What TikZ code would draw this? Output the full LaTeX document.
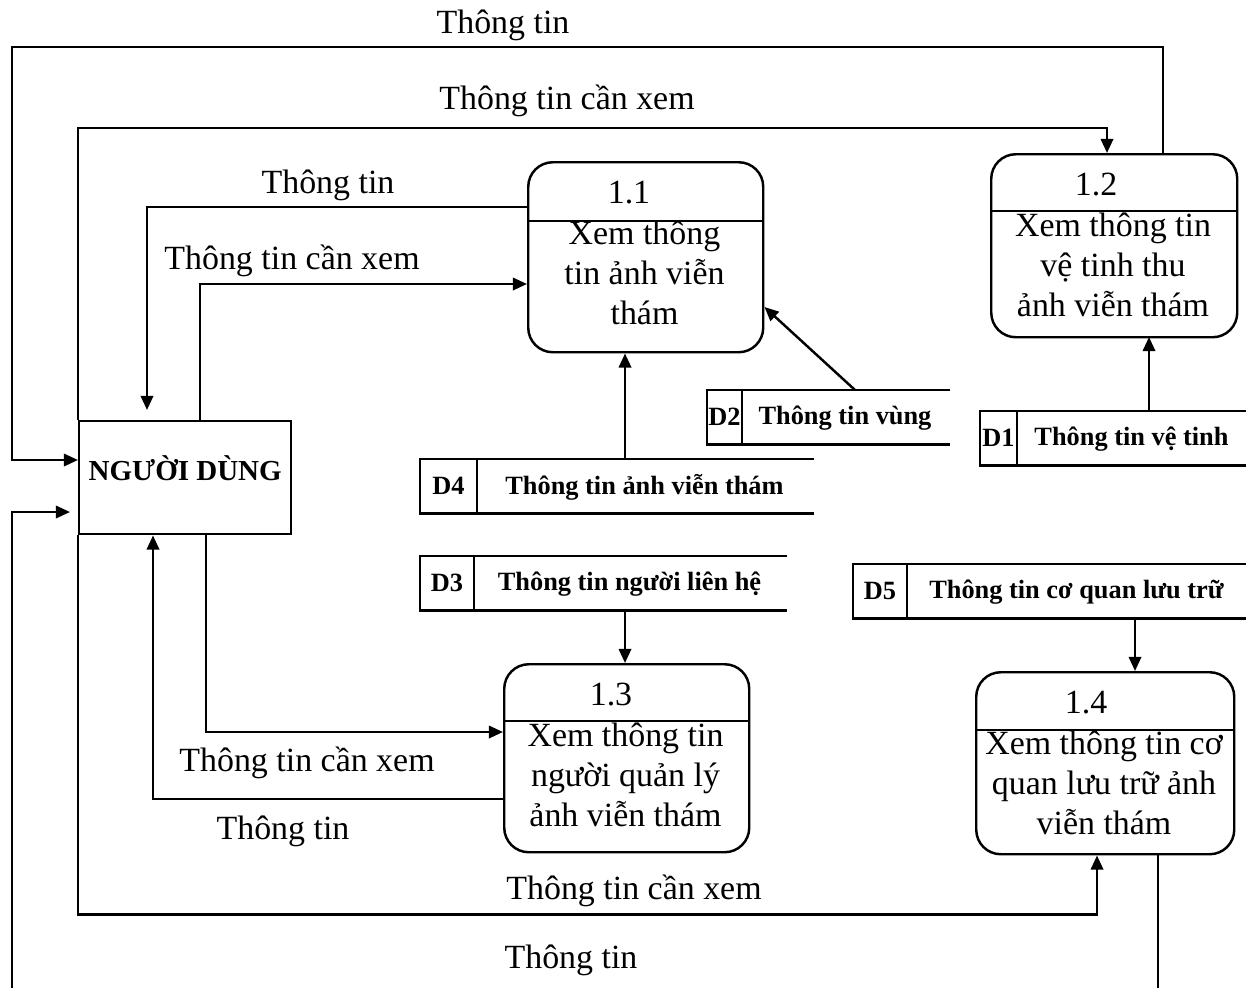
\documentclass[tikz,border=0pt]{standalone}
\usepackage{fontspec}
\setmainfont{Liberation Serif}
\usepackage{tikz}
\usetikzlibrary{arrows.meta,positioning,calc}

\begin{document}
\begin{tikzpicture}[
    x=0.02cm, y=-0.02cm,
    line width=1.4pt,
    flow/.style={-{Triangle[length=8pt,width=7pt]}},
    proc/.style={rectangle, draw, rounded corners=14pt, inner sep=0pt},
    store/.style={rectangle, inner sep=0pt, minimum height=52*0.02cm},
    user/.style={rectangle, draw, inner sep=0pt, minimum width=212*0.02cm, minimum height=113*0.02cm},
    utext/.style={font=\fontsize{16.5}{19}\selectfont\bfseries, inner sep=0pt},
    num/.style={font=\fontsize{19.3}{22.7}\selectfont, inner sep=0pt},
    ptext/.style={font=\fontsize{19.3}{22.7}\selectfont, align=center, inner sep=0pt},
    sid/.style={font=\fontsize{15}{18}\selectfont\bfseries, inner sep=0pt},
    slbl/.style={font=\fontsize{15}{18}\selectfont\bfseries, inner sep=0pt},
    lbl/.style={font=\fontsize{19.3}{22.7}\selectfont, inner sep=0pt},
]
\useasboundingbox (0,0) rectangle (1246,987);
\clip (0,0) rectangle (1246,987);

% External entity
\node[user, anchor=north west] (user) at (78,420) {};
\node[utext] (ut) at ($(user.center)+(0,-10)$) {NGƯỜI DÙNG};

% Processes
\foreach \i/\num/\x/\y/\w/\h/\dv/\nx/\txt in {
    1/1.1/527/161/235/190/60/102/{Xem thông\\tin ảnh viễn\\thám},
    2/1.2/990/153/246/183/58/106/{Xem thông tin\\vệ tinh thu\\ảnh viễn thám},
    3/1.3/503/663/245/188/58/108/{Xem thông tin\\người quản lý\\ảnh viễn thám},
    4/1.4/975/671/258/182/59/111/{Xem thông tin cơ\\quan lưu trữ ảnh\\viễn thám}%
} {
    \node[proc, minimum width=\w*0.02cm, minimum height=\h*0.02cm, anchor=north west] (p\i) at (\x,\y) {};
    \draw ($(p\i.north west)+(0,\dv)$) -- ($(p\i.north east)+(0,\dv)$);
    \node[num] at ($(p\i.north west)+(\nx,32)$) {\num};
    \node[ptext] at ($(p\i.north west)+({\w/2},112)$) {\txt};
}

% Data stores
\foreach \id/\x/\y/\w/\d/\lbl in {
    D2/707/390/241/35/Thông tin vùng,
    D1/980/411/266/37/Thông tin vệ tinh,
    D4/420/459/392/57/Thông tin ảnh viễn thám,
    D3/420/556/365/54/Thông tin người liên hệ,
    D5/853/564/393/54/Thông tin cơ quan lưu trữ%
} {
    \node[store, minimum width=\w*0.02cm, anchor=north west] (\id) at (\x,\y) {};
    \draw (\id.north east) -- (\id.north west) -- (\id.south west) -- (\id.south east);
    \draw ($(\id.north west)+(\d,0)$) -- ($(\id.south west)+(\d,0)$);
    \node[sid] at ($(\id.west)+({\d/2},0)$) {\id};
    \node[slbl] at ($(\id.west)+({(\d+\w)/2},1)$) {\lbl};
}

% Outer frame corners
\coordinate (ftop) at (12,47);
\coordinate (fbot) at (12,1000);

% Flows
\draw[flow] ($(p2.north west)+(173,0)$) |- (ftop) |- ($(user.north west)+(0,40)$);
\draw[flow] (user.north west) |- ($(p2.north west)+(117,-25)$) -- ($(p2.north west)+(117,0)$);
\draw[flow] ($(p1.north west)+(0,46)$) -| ($(user.north west)+(69,-10)$);
\draw[flow] ($(user.north west)+(122,0)$) |- ($(p1.north west)+(0,123)$);
\draw[flow] ($(D4.north west)+(205,0)$) -- ($(p1.south west)+(98,0)$);
\draw[flow] ($(D2.north west)+(148,0)$) -- ($(p1.north east)+(0,146)$);
\draw[flow] ($(D1.north west)+(169,0)$) -- ($(D1.north west)+(169,-74)$);
\draw[flow] ($(D3.south west)+(205,0)$) -- ($(p3.north west)+(122,0)$);
\draw[flow] ($(D5.south west)+(282,0)$) -- ($(p4.north west)+(160,0)$);
\draw[flow] ($(user.south west)+(128,0)$) |- ($(p3.north west)+(0,69)$);
\draw[flow] ($(p3.north west)+(0,136)$) -| ($(user.south west)+(75,0)$);
\draw[flow] (user.south west) |- ($(p4.south west)+(122,59)$) -- ($(p4.south west)+(122,0)$);
\draw[flow] ($(p4.south west)+(183,0)$) |- (fbot) |- ($(user.north west)+(-8,92)$);

% Flow labels
\node[lbl] (l1) at (503,25) {Thông tin};
\node[lbl] (l2) at (567,101) {Thông tin cần xem};
\node[lbl] (l3) at (328,185) {Thông tin};
\node[lbl] (l4) at (292,261) {Thông tin cần xem};
\node[lbl] (l5) at (307,763) {Thông tin cần xem};
\node[lbl] (l6) at (283,831) {Thông tin};
\node[lbl] (l7) at (634,891) {Thông tin cần xem};
\node[lbl] (l8) at (571,960) {Thông tin};

\end{tikzpicture}
\end{document}
